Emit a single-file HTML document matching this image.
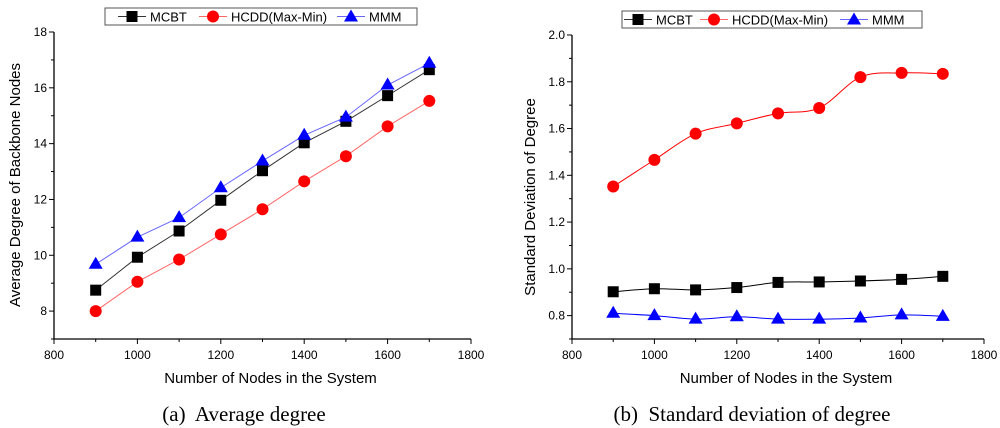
<!DOCTYPE html>
<html><head><meta charset="utf-8"><style>
body{margin:0;background:#fff;width:1000px;height:428px;overflow:hidden}
svg{display:block}
text{font-family:"Liberation Sans",sans-serif;fill:#000}
.cap{font-family:"Liberation Serif",serif;font-size:21px;white-space:pre}
</style></head><body>
<svg id="s" width="1000" height="428"></svg>
<script>
const xCats=[900,1000,1100,1200,1300,1400,1500,1600,1700];
const aMCBT=[8.75,9.93,10.87,11.97,13.03,14.03,14.8,15.72,16.65];
const aHCDD=[8.0,9.05,9.85,10.75,11.65,12.65,13.55,14.62,15.53];
const aMMM=[9.68,10.65,11.35,12.42,13.38,14.3,14.95,16.1,16.88];
const bMCBT=[0.902,0.915,0.91,0.92,0.942,0.944,0.948,0.955,0.968];
const bHCDD=[1.352,1.466,1.578,1.622,1.665,1.688,1.82,1.838,1.834];
const bMMM=[0.81,0.80,0.785,0.795,0.785,0.785,0.79,0.803,0.797];
const xTicks=[800,1000,1200,1400,1600,1800];
const aYTicks=[8,10,12,14,16,18];
const bYTicks=[0.8,1.0,1.2,1.4,1.6,1.8,2.0];
const seriesNames=["MCBT","HCDD(Max-Min)","MMM"];

const NS="http://www.w3.org/2000/svg";
const svg=document.getElementById('s');
function el(t,a,p){const e=document.createElementNS(NS,t);for(const k in a)e.setAttribute(k,a[k]);(p||svg).appendChild(e);return e;}

function marker(g,type,x,y){
  if(type==0){const m=el('rect',{x:x-5.5,y:y-5.5,width:11,height:11,fill:'#000'},g);}
  else if(type==1){const m=el('circle',{cx:x,cy:y,r:6,fill:'#f00'},g);}
  else {const m=el('path',{d:`M${x},${y-7.5}L${x+7},${y+4.5}L${x-7},${y+4.5}Z`,fill:'#00f'},g);}
}
function spline(pts){
  let d=`M${pts[0][0]},${pts[0][1]}`;
  for(let i=0;i<pts.length-1;i++){
    const p0=pts[Math.max(0,i-1)],p1=pts[i],p2=pts[i+1],p3=pts[Math.min(pts.length-1,i+2)];
    const c1=[p1[0]+(p2[0]-p0[0])/6,p1[1]+(p2[1]-p0[1])/6];
    const c2=[p2[0]-(p3[0]-p1[0])/6,p2[1]-(p3[1]-p1[1])/6];
    d+=`C${c1[0]},${c1[1]} ${c2[0]},${c2[1]} ${p2[0]},${p2[1]}`;
  }
  return d;
}
function chart(o){
  const g=el('g',{});
  
  
  const X=v=>o.x0+(v-800)/1000*(o.x1-o.x0);
  const Y=v=>o.yb+(v-o.ymin)/(o.ymax-o.ymin)*(o.yt-o.yb);
  const ax=el('path',{d:`M${o.x0},${o.yt}V${o.yb}H${o.x1}`,stroke:'#000','stroke-width':1.3,fill:'none'},g);
  
  for(let v=800;v<=1800;v+=100){const x=X(v);el('line',{x1:x,x2:x,y1:o.yb,y2:o.yb+(v%200==0?5:3),stroke:'#000'},g);}
  xTicks.forEach(v=>{const t=el('text',{x:X(v),y:o.yb+20,'text-anchor':'middle','font-size':12},g);t.textContent=v;});
  for(let i=0;;i++){const v=o.ymin+i*o.minor;if(v>o.ymax+1e-9)break;const y=Y(v);el('line',{x1:o.x0,x2:o.x0-(i%2==o.majorParity?5:3),y1:y,y2:y,stroke:'#000'},g);}
  o.yTicks.forEach(v=>{const t=el('text',{x:o.x0-7,y:Y(v)+4,'text-anchor':'end','font-size':12},g);t.textContent=o.fmt(v);});
  const xt=el('text',{x:(o.x0+o.x1)/2+8,y:383,'text-anchor':'middle','font-size':15},g);xt.textContent='Number of Nodes in the System';
  
  const yt=el('text',{x:0,y:0,'text-anchor':'middle','font-size':15,transform:`translate(${o.ylx},${o.yly}) rotate(-90)`},g);yt.textContent=o.ytitle;
  
  const cols=['#000','#f00','#00f'],lc=['#333','#f66','#66f'];
  o.series.forEach((s,k)=>{
    const pts=xCats.map((c,i)=>[X(c),Y(s[i])]);
    const sg=el('g',{},g);
    const d=o.smooth?spline(pts):'M'+pts.map(p=>p.join(',')).join('L');
    el('path',{d:d,stroke:o.smooth?cols[k]:lc[k],'stroke-width':1,fill:'none'},sg);
    pts.forEach(p=>marker(sg,k,p[0],p[1]));
  });
  const lg=el('g',{},g);
  el('rect',{x:o.lx,y:o.ly,width:o.lw,height:17,fill:'#fff',stroke:'#555','stroke-width':1},lg);
  const offs=o.loffs;
  seriesNames.forEach((n,k)=>{
    const x=o.lx+offs[k],y=o.ly+8.5;
    const e=el('g',{},lg);
    el('line',{x1:x,x2:x+28,y1:y,y2:y,stroke:lc[k]},e);
    marker(e,k,x+14,y+(k==2?0.5:0));
    const t=el('text',{x:x+32,y:y+5,'font-size':13},e);t.textContent=n;
  });
  const c=el('text',{x:o.capx,y:421,'text-anchor':'middle',class:'cap'},g);c.textContent=o.cap;
  
}
chart({name:'chart-average-degree',x0:54,x1:471,yt:32,yb:339,ymin:7,ymax:18,minor:1,majorParity:1,yTicks:aYTicks,fmt:v=>v,
  ylx:20,yly:185,ytitle:'Average Degree of Backbone Nodes',series:[aMCBT,aHCDD,aMMM],smooth:false,
  lx:105,ly:8,lw:312,loffs:[13,94,232],capx:244,cap:'(a)  Average degree'});
chart({name:'chart-standard-deviation',x0:572,x1:984,yt:35,yb:339,ymin:0.7,ymax:2.0,minor:0.1,majorParity:1,yTicks:bYTicks,fmt:v=>v.toFixed(1),
  ylx:535,yly:197,ytitle:'Standard Deviation of Degree',series:[bMCBT,bHCDD,bMMM],smooth:true,
  lx:622,ly:11,lw:300,loffs:[2,78,218],capx:752,cap:'(b)  Standard deviation of degree'});
</script>
</body></html>
